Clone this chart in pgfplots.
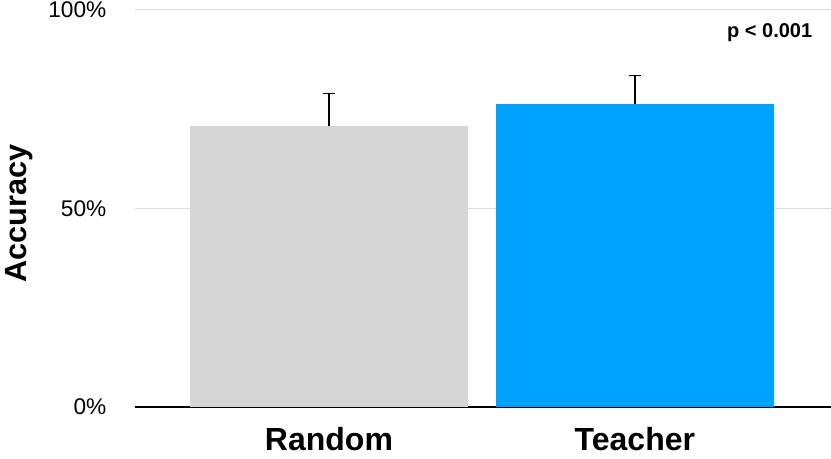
\documentclass[border=0pt]{standalone}
\usepackage{pgfplots}
\pgfplotsset{compat=1.18}
\usepackage{fontspec}
\setmainfont{Liberation Sans}
\definecolor{randgray}{HTML}{D6D6D6}
\definecolor{teachblue}{HTML}{00A2FF}
\definecolor{gridgray}{HTML}{DDDDDD}
\begin{document}
\begin{tikzpicture}
	\path[use as bounding box] (0,0) rectangle (623.25pt,344.25pt);
	\begin{axis}[
			at={(101.25pt,39pt)}, anchor=south west,
			scale only axis, width=522pt, height=297.75pt,
			xmin=-0.634, xmax=1.641, ymin=0, ymax=100,
			xtick={0,1}, xticklabels={Random,Teacher},
			ytick={0,50,100}, yticklabels={0\%,50\%,100\%},
			ymajorgrids, grid style={gridgray, line width=0.75pt},
			axis x line*=bottom, axis y line*=left,
			x axis line style={black, line width=1pt, -},
			y axis line style={draw=none},
			major tick length=0pt,
			yticklabel style={font=\fontsize{17}{20}\selectfont, xshift=-18pt},
			xticklabel style={font=\fontsize{24}{28}\selectfont\bfseries, yshift=-12pt},
			ylabel={Accuracy},
			ylabel style={font=\fontsize{23}{27}\selectfont\bfseries,
					at={(axis description cs:-0.166,0.488)}, anchor=center},
			ybar, bar width=0.908,
			clip=false,
		]
		\addplot[fill=randgray, draw=none, bar shift=0pt,
			error bars/.cd, y dir=plus, y explicit,
			error bar style={line width=1pt, black},
			error mark options={rotate=90, mark size=4.5pt, line width=1pt, black}]
		coordinates {(0,70.7) +- (0,8.3)};
		\addplot[fill=teachblue, draw=none, bar shift=0pt,
			error bars/.cd, y dir=plus, y explicit,
			error bar style={line width=1pt, black},
			error mark options={rotate=90, mark size=4.5pt, line width=1pt, black}]
		coordinates {(1,76.2) +- (0,7.3)};
		\node[anchor=east, font=\fontsize{15}{18}\selectfont\bfseries]
		at (axis cs:1.595,94.2) {p < 0.001};
	\end{axis}
\end{tikzpicture}
\end{document}
